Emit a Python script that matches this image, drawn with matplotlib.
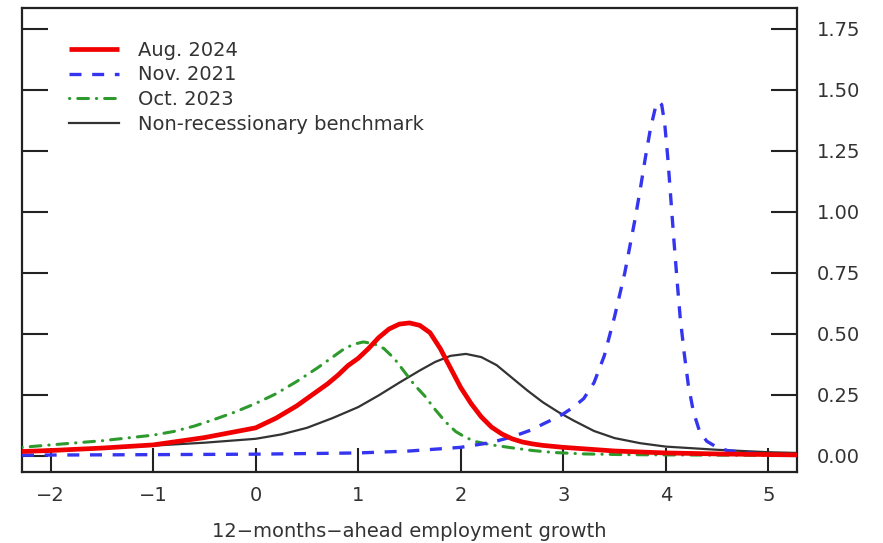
import matplotlib
matplotlib.use("Agg")
import matplotlib.pyplot as plt

plt.rcParams["font.family"] = ["DejaVu Sans"]

# Density estimates of 12-months-ahead employment growth
aug2024_x = [-2.28, -2.0, -1.5, -1.0, -0.5, 0.0, 0.1, 0.2, 0.3, 0.4, 0.5, 0.6, 0.7, 0.8,
             0.9, 1.0, 1.1, 1.2, 1.3, 1.4, 1.5, 1.6, 1.7, 1.8, 1.9, 2.0, 2.1, 2.2, 2.3,
             2.4, 2.5, 2.6, 2.7, 2.8, 2.9, 3.0, 3.5, 4.0, 4.5, 5.28]
aug2024_y = [0.018, 0.022, 0.032, 0.045, 0.075, 0.115, 0.135, 0.155, 0.18, 0.205, 0.235,
             0.265, 0.295, 0.33, 0.37, 0.40, 0.44, 0.485, 0.52, 0.54, 0.545, 0.535, 0.505,
             0.44, 0.36, 0.28, 0.215, 0.16, 0.118, 0.09, 0.07, 0.057, 0.049, 0.043, 0.039,
             0.035, 0.02, 0.012, 0.008, 0.004]

nov2021_x = [-2.28, -1.0, 0.0, 1.0, 1.5, 2.0, 2.3, 2.5, 2.7, 2.8, 2.9, 3.0, 3.1, 3.2,
             3.3, 3.4, 3.5, 3.55, 3.6, 3.65, 3.7, 3.75, 3.8, 3.85, 3.9, 3.93, 3.96, 3.99,
             4.02, 4.05, 4.08, 4.11, 4.14, 4.18, 4.22, 4.27, 4.33, 4.4, 4.5, 4.6, 4.8,
             5.0, 5.28]
nov2021_y = [0.003, 0.005, 0.007, 0.012, 0.02, 0.035, 0.055, 0.078, 0.108, 0.13, 0.15,
             0.172, 0.2, 0.235, 0.3, 0.41, 0.57, 0.66, 0.75, 0.86, 0.97, 1.09, 1.22, 1.34,
             1.43, 1.452, 1.44, 1.36, 1.22, 1.05, 0.88, 0.72, 0.57, 0.42, 0.29, 0.18, 0.1,
             0.06, 0.035, 0.022, 0.012, 0.006, 0.003]

oct2023_x = [-2.28, -2.0, -1.5, -1.0, -0.8, -0.6, -0.4, -0.2, 0.0, 0.2, 0.4, 0.6, 0.75,
             0.85, 0.95, 1.05, 1.15, 1.25, 1.35, 1.45, 1.55, 1.65, 1.75, 1.85, 1.95, 2.05,
             2.15, 2.3, 2.5, 2.7, 2.9, 3.2, 3.6, 4.0, 4.5, 5.28]
oct2023_y = [0.035, 0.045, 0.062, 0.085, 0.1, 0.122, 0.15, 0.18, 0.215, 0.255, 0.305,
             0.36, 0.405, 0.435, 0.457, 0.467, 0.46, 0.44, 0.4, 0.345, 0.29, 0.245, 0.19,
             0.14, 0.1, 0.075, 0.058, 0.045, 0.033, 0.022, 0.014, 0.008, 0.005, 0.004,
             0.003, 0.002]

bench_x = [-2.28, -2.0, -1.5, -1.0, -0.5, 0.0, 0.25, 0.5, 0.75, 1.0, 1.2, 1.4, 1.6, 1.75,
           1.9, 2.05, 2.2, 2.35, 2.5, 2.65, 2.8, 2.95, 3.1, 3.3, 3.5, 3.75, 4.0, 4.5,
           5.0, 5.28]
bench_y = [0.02, 0.025, 0.032, 0.042, 0.054, 0.07, 0.088, 0.115, 0.155, 0.2, 0.248, 0.3,
           0.35, 0.385, 0.41, 0.418, 0.405, 0.372, 0.32, 0.268, 0.22, 0.18, 0.145, 0.102,
           0.073, 0.052, 0.038, 0.025, 0.015, 0.012]

x_ticks = [-2, -1, 0, 1, 2, 3, 4, 5]
y_ticks = [0.00, 0.25, 0.50, 0.75, 1.00, 1.25, 1.50, 1.75]

text_color = "#333333"
fs = 14

fig = plt.figure(figsize=(8.83, 5.43), dpi=100)
ax = fig.add_axes([0.0249, 0.1308, 0.8777, 0.8545])

ax.plot(bench_x, bench_y, color="#333333", lw=1.6, label="Non-recessionary benchmark", zorder=2)
ax.plot(oct2023_x, oct2023_y, color="#2e9a2e", lw=2.2, dashes=(0.1, 2.6, 3.5, 2.6),
        dash_capstyle="round", label="Oct. 2023", zorder=3)
ax.plot(nov2021_x, nov2021_y, color="#3535f0", lw=2.4, dashes=(3.6, 3.2),
        label="Nov. 2021", zorder=3)
ax.plot(aug2024_x, aug2024_y, color="#f00000", lw=3.4, label="Aug. 2024", zorder=4,
        solid_capstyle="butt")

ax.set_xlim(-2.28, 5.28)
ax.set_ylim(-0.066, 1.836)
ax.set_xticks(x_ticks)
ax.set_xticklabels([f"\u2212{abs(v)}" if v < 0 else str(v) for v in x_ticks])
ax.set_yticks(y_ticks)
ax.set_yticklabels([f"{v:.2f}" for v in y_ticks])

ax.yaxis.tick_right()
ax.tick_params(axis="y", which="both", direction="in", length=19, width=1.5,
               left=True, right=True, labelleft=False, labelright=True,
               labelsize=fs, labelcolor=text_color, pad=14, color="#222222")
ax.tick_params(axis="x", direction="in", length=17, width=1.5, labelsize=fs,
               labelcolor=text_color, pad=10, color="#222222")
for s in ax.spines.values():
    s.set_linewidth(1.6)
    s.set_color("#222222")

ax.set_xlabel("12\u2212months\u2212ahead employment growth", fontsize=fs,
              color=text_color, labelpad=12)

handles, labels = ax.get_legend_handles_labels()
order = [3, 2, 1, 0]
ax.legend([handles[i] for i in order], [labels[i] for i in order],
          loc="upper left", bbox_to_anchor=(0.051, 0.9465), frameon=False,
          fontsize=fs, handlelength=2.57, handletextpad=0.98, labelspacing=0.3,
          borderaxespad=0, labelcolor=text_color)

fig.savefig("out.png", dpi=100)
